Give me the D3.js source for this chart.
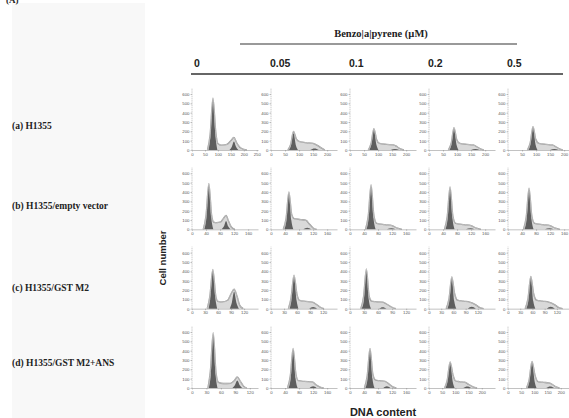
<!DOCTYPE html>
<html>
<head>
<script src="https://d3js.org/d3.v7.min.js"></script>
<style>
    html, body { margin: 0; padding: 0; background: #fff; }
    svg { display: block; }
    .serif { font-family: 'Liberation Serif', 'Times New Roman', serif; font-weight: bold; fill: #222; }
    .sans { font-family: 'Liberation Sans', Arial, sans-serif; font-weight: bold; fill: #222; }
    .tick text { font-family: 'Liberation Sans', Arial, sans-serif; font-size: 4.3px; fill: #555; }
    .tick line { stroke: #888; stroke-width: 0.5; }
    .domain { stroke: #999; stroke-width: 0.6; }
</style>
</head>
<body>
<div id="vis"></div>
<script>

// concentrations (columns) and cell lines (rows)
var doses = ["0", "0.05", "0.1", "0.2", "0.5"];
var cellLines = ["(a) H1355", "(b) H1355/empty vector", "(c) H1355/GST M2", "(d) H1355/GST M2+ANS"];
var yTicks = [0, 100, 200, 300, 400, 500, 600];

// x tick labels and x range for each of the 20 panels, row by row
var xTicks = [
    [0,50,100,150,200,250], [0,50,100,150,200], [0,50,100,150,200], [0,50,100,150,200], [0,50,100,150,200],
    [0,40,80,120,160], [0,40,80,120,160], [0,40,80,120,160], [0,40,80,120,160], [0,40,80,120,160],
    [0,30,60,90,120], [0,30,60,90,120], [0,30,60,90,120], [0,30,60,90,120], [0,30,60,90,120],
    [0,30,60,90,120], [0,40,80,120,160], [0,40,80,120,160], [0,50,100,150,200], [0,50,100,150,200]
];
var xMax = [255, 235, 235, 235, 235,
            188, 188, 188, 188, 188,
            152, 152, 141, 162, 162,
            137, 188, 188, 250, 250];

// fitted total histogram (light) for each panel: [DNA content, cell number]
var fitCurves = [
    [[60,0],[70,165],[81,555],[92,190],[100,70],[115,52],[135,60],[150,100],[162,135],[172,80],[185,30],[200,8],[212,0]],
    [[60,0],[70,60],[80,200],[90,120],[100,92],[125,80],[150,70],[165,50],[180,20],[192,0]],
    [[65,0],[75,70],[85,230],[95,110],[105,70],[130,60],[155,55],[168,35],[180,12],[192,0]],
    [[69,0],[79,72],[89,240],[99,110],[110,70],[135,60],[158,55],[170,35],[183,12],[195,0]],
    [[69,0],[79,75],[89,250],[99,115],[110,70],[135,60],[158,55],[170,35],[183,12],[195,0]],

    [[32,0],[40,150],[48,490],[56,150],[62,78],[70,72],[82,80],[90,120],[97,150],[104,90],[112,25],[122,0]],
    [[35,0],[43,120],[51,400],[59,160],[66,115],[85,105],[100,95],[110,55],[120,15],[130,0]],
    [[44,0],[52,145],[60,475],[68,150],[76,65],[100,50],[120,40],[135,12],[148,0]],
    [[44,0],[52,140],[60,455],[68,145],[76,65],[100,50],[120,40],[135,12],[148,0]],
    [[44,0],[52,135],[60,440],[68,140],[76,65],[100,50],[120,40],[135,12],[148,0]],

    [[35,0],[41,130],[48,420],[55,130],[60,78],[70,72],[82,90],[90,160],[97,210],[104,130],[110,35],[118,0]],
    [[40,0],[46,110],[53,360],[60,150],[66,88],[80,78],[95,70],[105,45],[114,15],[122,0]],
    [[23,0],[29,130],[35,425],[41,130],[46,82],[55,75],[70,70],[80,45],[90,15],[98,0]],
    [[42,0],[49,105],[56,340],[63,160],[70,92],[85,80],[100,70],[115,40],[125,12],[134,0]],
    [[42,0],[49,108],[56,345],[63,160],[70,92],[85,80],[100,70],[115,40],[125,12],[134,0]],

    [[33,0],[38,175],[44,590],[50,160],[55,60],[65,48],[80,50],[88,80],[94,120],[100,75],[107,20],[114,0]],
    [[47,0],[55,130],[63,425],[71,150],[78,78],[95,70],[118,65],[128,35],[140,10],[150,0]],
    [[41,0],[49,130],[57,425],[65,150],[72,88],[85,78],[100,70],[112,40],[122,12],[132,0]],
    [[59,0],[69,85],[80,280],[91,140],[100,78],[115,68],[135,62],[150,40],[165,15],[182,0]],
    [[70,0],[80,88],[91,285],[102,140],[112,72],[130,62],[155,55],[170,35],[182,12],[195,0]]
];

// G0/G1 peak (dark)
var g1Curves = [
    [[64,0],[71,135],[81,540],[91,135],[98,0]],
    [[64,0],[71,45],[80,180],[89,45],[96,0]],
    [[69,0],[76,55],[85,215],[94,55],[101,0]],
    [[73,0],[80,56],[89,225],[98,56],[105,0]],
    [[73,0],[80,60],[89,235],[98,60],[105,0]],

    [[35,0],[41,120],[48,470],[55,120],[61,0]],
    [[38,0],[44,95],[51,380],[58,95],[64,0]],
    [[47,0],[53,115],[60,460],[67,115],[73,0]],
    [[47,0],[53,110],[60,440],[67,110],[73,0]],
    [[47,0],[53,106],[60,425],[67,106],[73,0]],

    [[38,0],[42,100],[48,400],[54,100],[58,0]],
    [[43,0],[47,85],[53,340],[59,85],[63,0]],
    [[25,0],[30,100],[35,410],[40,100],[45,0]],
    [[45,0],[50,80],[56,320],[62,80],[67,0]],
    [[45,0],[50,82],[56,330],[62,82],[67,0]],

    [[35,0],[39,140],[44,570],[49,140],[53,0]],
    [[50,0],[56,100],[63,410],[70,100],[76,0]],
    [[44,0],[50,100],[57,410],[64,100],[70,0]],
    [[63,0],[70,65],[80,260],[90,65],[97,0]],
    [[74,0],[81,68],[91,270],[101,68],[108,0]]
];

// G2/M peak (dark)
var g2Curves = [
    [[145,0],[154,35],[162,90],[170,35],[179,0]],
    [[140,0],[155,15],[170,0]],
    [[145,0],[160,12],[175,0]],
    [[150,0],[165,12],[180,0]],
    [[150,0],[165,12],[180,0]],

    [[84,0],[91,32],[97,90],[103,32],[110,0]],
    [[92,0],[103,18],[115,0]],
    [[105,0],[118,12],[130,0]],
    [[105,0],[118,12],[130,0]],
    [[105,0],[118,12],[130,0]],

    [[87,0],[92,70],[97,180],[102,70],[108,0]],
    [[88,0],[97,18],[106,0]],
    [[62,0],[70,15],[78,0]],
    [[95,0],[105,20],[115,0]],
    [[95,0],[105,20],[115,0]],

    [[84,0],[89,30],[94,80],[99,30],[104,0]],
    [[110,0],[120,18],[130,0]],
    [[95,0],[105,18],[115,0]],
    [[130,0],[145,15],[160,0]],
    [[145,0],[160,15],[175,0]]
];

var width = 569, height = 418;
var svg = d3.select('#vis').append('svg')
    .attr('width', width)
    .attr('height', height);

// pale block behind the row labels
svg.append('rect').attr('x', 12).attr('y', 3).attr('width', 133).attr('height', 415).attr('fill', '#f8f8f8');
svg.append('text').attr('class', 'serif').attr('x', 6).attr('y', 3).attr('font-size', 9).text('(A)');

var colScale = d3.scalePoint().domain(doses).range([192, 508]);
var rowScale = d3.scalePoint().domain(cellLines).range([150, 388]);
var panelW = 66, panelH = 56;

// header
svg.append('text').attr('class', 'serif').attr('x', 381).attr('y', 37)
    .attr('text-anchor', 'middle').attr('font-size', 10.5).text('Benzo|a|pyrene  (\u00b5M)');
svg.append('line').attr('x1', 240).attr('x2', 517).attr('y1', 44).attr('y2', 44)
    .attr('stroke', '#777').attr('stroke-width', 1.4);
svg.append('line').attr('x1', 191).attr('x2', 563).attr('y1', 74).attr('y2', 74)
    .attr('stroke', '#666').attr('stroke-width', 2);
svg.selectAll('.dose').data(doses).enter().append('text')
    .attr('class', 'sans dose')
    .attr('x', function(d, i) { return colScale(d) + (i == 0 ? 2 : -1); })
    .attr('y', 67)
    .attr('font-size', 10.5)
    .text(function(d) { return d; });

// row labels
svg.selectAll('.rowlab').data(cellLines).enter().append('text')
    .attr('class', 'serif rowlab')
    .attr('x', 12)
    .attr('y', function(d, i) { return [129, 209, 291, 366][i]; })
    .attr('font-size', 9.5)
    .text(function(d) { return d; });

svg.append('text').attr('class', 'sans').attr('font-size', 9.5)
    .attr('text-anchor', 'middle')
    .attr('transform', 'translate(166,258) rotate(-90)')
    .text('Cell number');
svg.append('text').attr('class', 'sans').attr('font-size', 11)
    .attr('text-anchor', 'middle')
    .attr('x', 383).attr('y', 416)
    .text('DNA content');

var fitArea = function(x, y) {
    return d3.area().x(function(d) { return x(d[0]); }).y0(y(0)).y1(function(d) { return y(d[1]); }).curve(d3.curveMonotoneX);
};
var fitLine = function(x, y) {
    return d3.line().x(function(d) { return x(d[0]); }).y(function(d) { return y(d[1]); }).curve(d3.curveMonotoneX);
};

cellLines.forEach(function(line, r) {
    doses.forEach(function(dose, c) {
        var i = r * 5 + c;
        var g = svg.append('g')
            .attr('transform', 'translate(' + colScale(dose) + ',' + rowScale(line) + ')');
        var x = d3.scaleLinear().domain([0, xMax[i]]).range([0, panelW]);
        var y = d3.scaleLinear().domain([0, 600]).range([0, -panelH]);

        // total fit: light fill with outline, dark G1 and G2 peaks
        g.append('path').attr('d', fitArea(x, y)(fitCurves[i])).attr('fill', '#d9d9d9');
        g.append('path').attr('d', fitArea(x, y)(g1Curves[i])).attr('fill', '#5e5e5e');
        g.append('path').attr('d', fitArea(x, y)(g2Curves[i])).attr('fill', '#5e5e5e');
        g.append('path').attr('d', fitLine(x, y)(fitCurves[i]))
            .attr('fill', 'none').attr('stroke', '#8c8c8c').attr('stroke-width', 1.3);
        g.append('path').attr('d', fitLine(x, y)(fitCurves[i]))
            .attr('fill', 'none').attr('stroke', '#f4f4f4').attr('stroke-width', 0.45);

        // axes
        g.append('g').call(d3.axisBottom(x).tickValues(xTicks[i]).tickSize(1.5).tickPadding(1).tickSizeOuter(0));
        g.append('line').attr('x1', 0).attr('x2', 0).attr('y1', 0).attr('y2', -panelH - 6)
            .attr('stroke', '#aaa').attr('stroke-width', 0.6).attr('stroke-dasharray', '1.5,0.7');
        var ya = g.append('g').call(d3.axisLeft(y).tickValues(yTicks).tickSize(1.5).tickPadding(1).tickSizeOuter(0));
        ya.select('.domain').remove();
    });
});

</script>
</body>
</html>
